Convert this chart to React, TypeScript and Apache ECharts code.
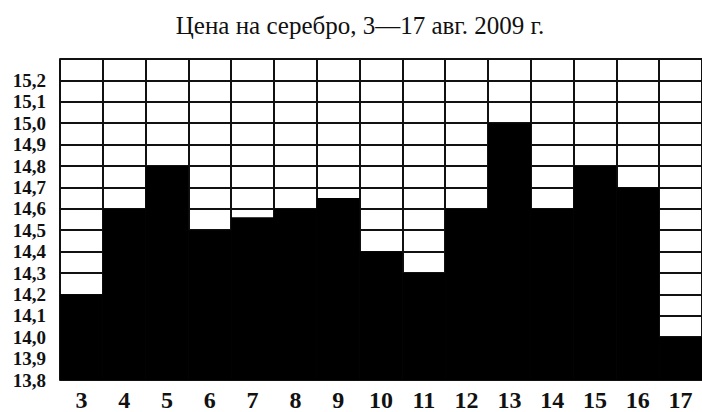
import React, { useEffect, useRef } from "react";
import * as echarts from "echarts";

const title = "Цена на серебро, 3—17 авг. 2009 г.";
const days = ["3", "4", "5", "6", "7", "8", "9", "10", "11", "12", "13", "14", "15", "16", "17"];
const prices = [14.2, 14.6, 14.8, 14.5, 14.56, 14.6, 14.65, 14.4, 14.3, 14.6, 15.0, 14.6, 14.8, 14.7, 14.0];
const yMin = 13.8;
const yMax = 15.3;
const yStep = 0.1;

export default function App() {
  const ref = useRef<HTMLDivElement>(null);
  useEffect(() => {
    if (!ref.current) return;
    const chart = echarts.init(ref.current, undefined, { renderer: "svg" });
    chart.setOption({
      animation: false,
      backgroundColor: "#fff",
      title: {
        text: title,
        left: 355,
        textAlign: "center",
        top: 8,
        textStyle: {
          fontFamily: "'Liberation Serif', serif",
          fontWeight: "normal",
          fontSize: 25,
          color: "#111",
        },
      },
      grid: { left: 60, top: 59, width: 646, bottom: 30, containLabel: false },
      xAxis: {
        type: "category",
        data: days,
        boundaryGap: true,
        axisLine: { show: false },
        axisTick: { show: false },
        axisLabel: {
          margin: 8,
          fontFamily: "'Liberation Serif', serif",
          fontWeight: "bold",
          fontSize: 24,
          color: "#111",
          interval: 0,
        },
        splitLine: { show: true, interval: 0, lineStyle: { color: "#111", width: 2 } },
      },
      yAxis: {
        type: "value",
        min: yMin,
        max: yMax,
        interval: yStep,
        axisLine: { show: true, lineStyle: { color: "#111", width: 2 } },
        axisTick: { show: false },
        axisLabel: {
          margin: 14,
          fontFamily: "'Liberation Serif', serif",
          fontWeight: "bold",
          fontSize: 19,
          color: "#111",
          formatter: (v: number) => (Math.abs(v - yMax) < 1e-6 ? "" : v.toFixed(1).replace(".", ",")),
        },
        splitLine: { show: true, lineStyle: { color: "#111", width: 2 } },
      },
      series: [
        {
          type: "bar",
          data: prices,
          barCategoryGap: "0%",
          itemStyle: { color: "#000" },
        },
      ],
    });
    return () => chart.dispose();
  }, []);
  return <div ref={ref} style={{ width: 702, height: 412, position: "absolute", left: 0, top: 0 }} />;
}
